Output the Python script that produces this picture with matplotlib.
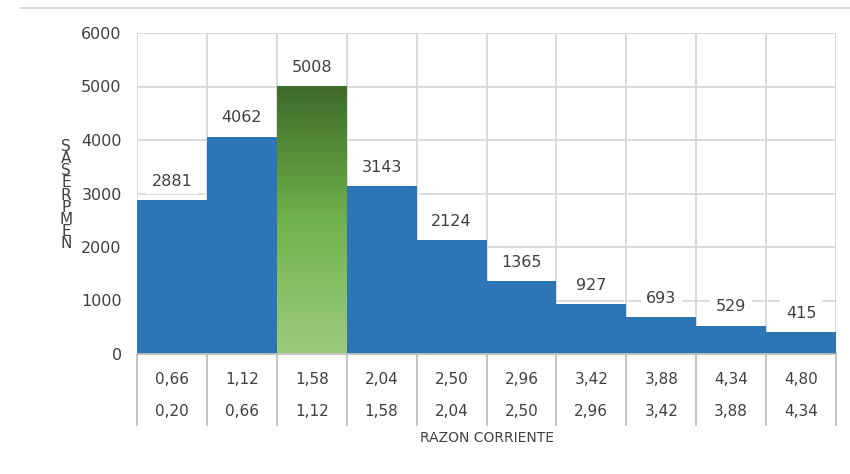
import numpy as np
import matplotlib.pyplot as plt
from matplotlib.lines import Line2D
from matplotlib.colors import LinearSegmentedColormap

# datos del histograma
conteos = [2881, 4062, 5008, 3143, 2124, 1365, 927, 693, 529, 415]
lim_sup = ["0,66", "1,12", "1,58", "2,04", "2,50", "2,96", "3,42", "3,88", "4,34", "4,80"]
lim_inf = ["0,20", "0,66", "1,12", "1,58", "2,04", "2,50", "2,96", "3,42", "3,88", "4,34"]
y_ticks = [0, 1000, 2000, 3000, 4000, 5000, 6000]
x_titulo = "RAZON CORRIENTE"
y_titulo = "SASERPMEN"   # letras apiladas tal cual aparecen
resaltado = 2

azul = "#2E75B6"
gris_txt = "#404040"
gris_lin = "#D9D9D9"

fig = plt.figure(figsize=(8.5, 4.74), dpi=100)
ax = fig.add_axes([137 / 850, 1 - 354 / 474, (836 - 137) / 850, (354 - 33) / 474])

n = len(conteos)
pos = np.arange(n)
barras = ax.bar(pos, conteos, width=1.0, align="edge", color=azul, linewidth=0, zorder=2)

# barra resaltada con degradado verde
b = barras[resaltado]
b.set_facecolor("none")
verde = LinearSegmentedColormap.from_list("verde", ["#9CCB7E", "#6FB24A", "#3F6B2A"])
grad = np.linspace(0, 1, 256).reshape(-1, 1)
img = ax.imshow(grad, cmap=verde, origin="lower", aspect="auto",
                extent=[resaltado, resaltado + 1, 0, conteos[resaltado]], zorder=2)
img.set_clip_path(b)

for i, v in enumerate(conteos):
    ax.annotate(str(v), (i + 0.5, v), xytext=(0, 13.5), textcoords="offset points",
                ha="center", va="center", fontsize=11.5, color=gris_txt, zorder=4,
                bbox=dict(boxstyle="square,pad=0.35", fc="white", ec="none"))

ax.set_xlim(0, n)
ax.set_ylim(0, 6000)
ax.set_yticks(y_ticks)
ax.set_yticklabels([str(t) for t in y_ticks], fontsize=11.5, color=gris_txt)
ax.tick_params(axis="y", length=0, pad=11)
ax.set_xticks(np.arange(n + 1))
ax.set_xticklabels([])
ax.tick_params(axis="x", length=0)
ax.grid(True, color=gris_lin, linewidth=1.3, zorder=0)
ax.set_axisbelow(True)
for s in ["top", "right", "left"]:
    ax.spines[s].set_visible(False)
ax.spines["bottom"].set_color("#BFBFBF")
ax.spines["bottom"].set_linewidth(1.3)
ax.spines["bottom"].set_zorder(3)

# tabla de intervalos bajo el eje
trans = ax.get_xaxis_transform()
alto = 354 - 33
for i in range(n + 1):
    ax.add_line(Line2D([i, i], [0, -71 / alto], transform=trans, color="#BFBFBF",
                       linewidth=1.3, clip_on=False))
for i in range(n):
    ax.text(i + 0.5, -26 / alto, lim_sup[i], transform=trans, ha="center", va="center",
            fontsize=11, color=gris_txt)
    ax.text(i + 0.5, -58 / alto, lim_inf[i], transform=trans, ha="center", va="center",
            fontsize=11, color=gris_txt)
ax.text(n / 2, -84 / alto, x_titulo, transform=trans, ha="center", va="center",
        fontsize=10, color=gris_txt)

# titulo del eje y con letras apiladas
fig.text(66 / 850, 1 - 195 / 474, "\n".join(y_titulo),
         ha="center", va="center", fontsize=11, color=gris_txt, linespacing=0.76)

fig.add_artist(Line2D([20 / 850, 1], [1 - 8 / 474, 1 - 8 / 474], color=gris_lin, linewidth=1.3))

fig.savefig("out.png", dpi=100)
